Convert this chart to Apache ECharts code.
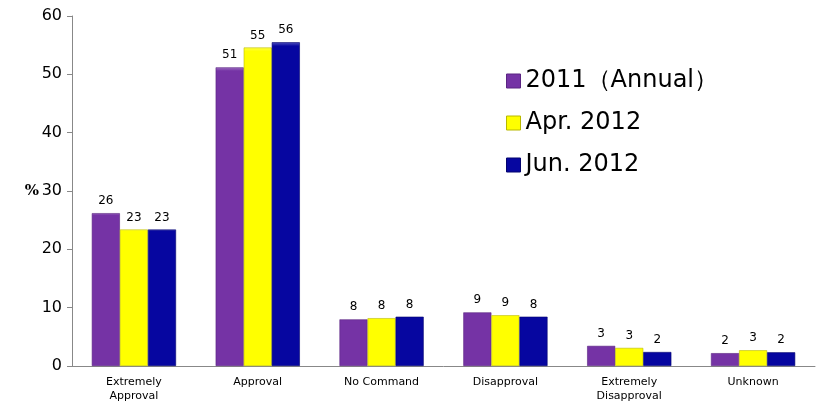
<!DOCTYPE html>
<html><head><meta charset="utf-8">
<script src="https://cdn.jsdelivr.net/npm/echarts@6/dist/echarts.min.js"></script>
<style>html,body{margin:0;padding:0;background:#fff}#c{width:830px;height:409px}</style>
</head><body><div id="c"></div>
<script>
const categories = ['Extremely\nApproval', 'Approval', 'No Command', 'Disapproval', 'Extremely\nDisapproval', 'Unknown'];
const seriesNames = ['2011（Annual）', 'Apr. 2012', 'Jun. 2012'];
const s2011 = [26.2, 51.2, 8.0, 9.2, 3.45, 2.2];
const sApr = [23.4, 54.6, 8.2, 8.7, 3.1, 2.7];
const sJun = [23.4, 55.5, 8.45, 8.45, 2.4, 2.35];
const yTicks = [0, 10, 20, 30, 40, 50, 60];
const colors = ['#7533a5', '#ffff00', '#0606a0'];
const borders = ['#5a2482', '#b8b800', '#03036e'];

const chart = echarts.init(document.getElementById('c'));
const data = [s2011, sApr, sJun];
chart.setOption({
  animation: false,
  grid: { left: 72, right: 15, top: 16, bottom: 43 },
  legend: {
    orient: 'vertical', left: 501, top: 64, itemWidth: 14, itemHeight: 14, itemGap: 18,
    textStyle: { fontFamily: 'DejaVu Sans', fontSize: 24, color: '#000' },
    data: seriesNames.map((n, i) => ({ name: n, icon: 'rect', itemStyle: { color: colors[i], borderColor: borders[i], borderWidth: 1 } }))
  },
  xAxis: {
    type: 'category', data: categories,
    axisLine: { lineStyle: { color: '#888' } },
    axisTick: { show: false },
    axisLabel: { fontFamily: 'DejaVu Sans', fontSize: 11, color: '#000', lineHeight: 14, margin: 9, interval: 0 }
  },
  yAxis: {
    type: 'value', min: yTicks[0], max: yTicks[yTicks.length - 1], interval: 10,
    name: '%', nameLocation: 'middle', nameRotate: 0, nameGap: 33, nameMoveOverlap: false,
    nameTextStyle: { fontFamily: 'DejaVu Serif', fontWeight: 'bold', fontSize: 15, color: '#000', padding: [4, 0, 0, 0] },
    axisLine: { show: true, lineStyle: { color: '#888' } },
    axisTick: { show: true, inside: false, length: 5, lineStyle: { color: '#888' } },
    splitLine: { show: false },
    axisLabel: { fontFamily: 'DejaVu Sans', fontSize: 16, color: '#000', margin: 10 }
  },
  series: seriesNames.map((n, i) => ({
    name: n, type: 'bar', data: data[i], barGap: '0%', barCategoryGap: '32%',
    itemStyle: {
      color: new echarts.graphic.LinearGradient(0, 0, 0, 1, [
        { offset: 0, color: echarts.color.lift(colors[i], 0.3) },
        { offset: 0.012, color: colors[i] },
        { offset: 1, color: colors[i] }
      ]),
      borderColor: borders[i], borderWidth: 0.6
    },
    label: {
      show: true, position: 'top', distance: 6, fontFamily: 'DejaVu Sans', fontSize: 12, color: '#000',
      formatter: p => Math.round(p.value)
    }
  }))
});
</script></body></html>
